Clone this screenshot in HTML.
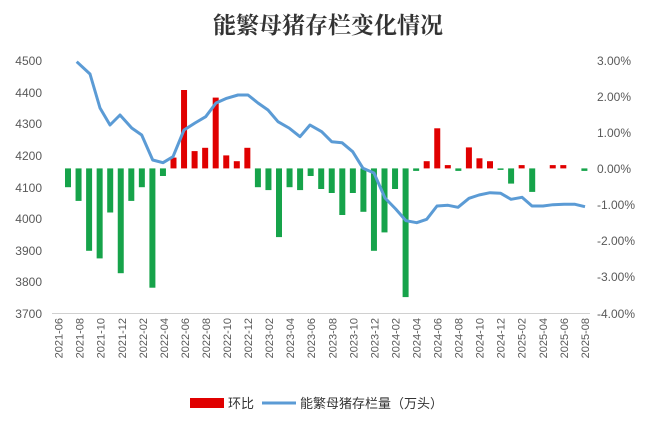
<!DOCTYPE html>
<html><head><meta charset="utf-8"><style>
body{margin:0;background:#fff;}
svg{display:block;font-family:"Liberation Sans","Noto Sans CJK SC",sans-serif;}
</style></head><body>
<svg width="654" height="424" viewBox="0 0 654 424" xmlns="http://www.w3.org/2000/svg">
<rect width="654" height="424" fill="#fff"/>
<text x="328" y="33" text-anchor="middle" font-size="23" font-weight="bold" fill="#333" font-family="'Liberation Serif','Noto Serif CJK SC',serif">能繁母猪存栏变化情况</text>
<g font-size="12" fill="#595959" text-anchor="end">
<text x="42" y="65">4500</text><text x="42" y="97">4400</text><text x="42" y="128">4300</text><text x="42" y="160">4200</text><text x="42" y="192">4100</text><text x="42" y="223">4000</text><text x="42" y="255">3900</text><text x="42" y="286">3800</text><text x="42" y="318">3700</text>
</g>
<g font-size="12" fill="#595959">
<text x="597" y="65">3.00%</text><text x="597" y="101">2.00%</text><text x="597" y="137">1.00%</text><text x="597" y="173">0.00%</text><text x="597" y="209">-1.00%</text><text x="597" y="245">-2.00%</text><text x="597" y="281">-3.00%</text><text x="597" y="318">-4.00%</text>
</g>
<line x1="52" y1="313.5" x2="590" y2="313.5" stroke="#d0d0d0"/>
<g fill="#16a34a">
<rect x="65" y="168.4" width="6" height="18.8"/>
<rect x="75.55" y="168.4" width="6" height="32.5"/>
<rect x="86.1" y="168.4" width="6" height="82.4"/>
<rect x="96.65" y="168.4" width="6" height="90"/>
<rect x="107.2" y="168.4" width="6" height="44.1"/>
<rect x="117.75" y="168.4" width="6" height="104.8"/>
<rect x="128.3" y="168.4" width="6" height="32.5"/>
<rect x="138.85" y="168.4" width="6" height="18.8"/>
<rect x="149.4" y="168.4" width="6" height="119.3"/>
<rect x="159.95" y="168.4" width="6" height="7.6"/>
<rect x="254.9" y="168.4" width="6" height="18.8"/>
<rect x="265.45" y="168.4" width="6" height="21.7"/>
<rect x="276" y="168.4" width="6" height="68.7"/>
<rect x="286.55" y="168.4" width="6" height="18.8"/>
<rect x="297.1" y="168.4" width="6" height="21.7"/>
<rect x="307.65" y="168.4" width="6" height="7.6"/>
<rect x="318.2" y="168.4" width="6" height="20.6"/>
<rect x="328.75" y="168.4" width="6" height="24.6"/>
<rect x="339.3" y="168.4" width="6" height="46.6"/>
<rect x="349.85" y="168.4" width="6" height="24.6"/>
<rect x="360.4" y="168.4" width="6" height="43.4"/>
<rect x="370.95" y="168.4" width="6" height="82.4"/>
<rect x="381.5" y="168.4" width="6" height="64"/>
<rect x="392.05" y="168.4" width="6" height="20.6"/>
<rect x="402.6" y="168.4" width="6" height="128.7"/>
<rect x="413.15" y="168.4" width="6" height="2.5"/>
<rect x="455.35" y="168.4" width="6" height="2.5"/>
<rect x="497.55" y="168.4" width="6" height="1.5"/>
<rect x="508.1" y="168.4" width="6" height="15.2"/>
<rect x="529.2" y="168.4" width="6" height="23.5"/>
<rect x="581.4" y="168.4" width="6" height="2.5"/>
</g>
<g fill="#e00000">
<rect x="170.5" y="157.6" width="6" height="10.8"/>
<rect x="181.05" y="90" width="6" height="78.4"/>
<rect x="191.6" y="151.1" width="6" height="17.3"/>
<rect x="202.15" y="147.8" width="6" height="20.6"/>
<rect x="212.7" y="97.6" width="6" height="70.8"/>
<rect x="223.25" y="155.4" width="6" height="13"/>
<rect x="233.8" y="161.2" width="6" height="7.2"/>
<rect x="244.35" y="147.8" width="6" height="20.6"/>
<rect x="423.7" y="161.2" width="6" height="7.2"/>
<rect x="434.25" y="128.3" width="6" height="40.1"/>
<rect x="444.8" y="165.1" width="6" height="3.3"/>
<rect x="465.9" y="147.4" width="6" height="21"/>
<rect x="476.45" y="158.3" width="6" height="10.1"/>
<rect x="487" y="161.2" width="6" height="7.2"/>
<rect x="518.65" y="165.1" width="6" height="3.3"/>
<rect x="549.75" y="165.1" width="6" height="3.3"/>
<rect x="560.3" y="165.1" width="6" height="3.3"/>
</g>
<polyline fill="none" stroke="#5b9bd5" stroke-width="3" stroke-linejoin="round" points="76.7,61.7 90,74 100,108 110,125 120,115 131.7,128 141.7,135 152.7,160 163,162.7 173,156.7 184,130 195,123 205.7,116.7 216,103 226.7,98.3 238,95 248,95 258,103 268,110 278,121.7 289,128 300,136.7 310,125 321.7,131.7 331.7,141.7 342,142.7 352.7,151.7 363,168.3 374,173 385,198 395.7,209 406,220.7 416.7,222.7 426.7,219.3 437,206 448,205.3 458,207.3 469,198.3 479,195 490,192.7 500.7,193.3 511,199.3 522,197.3 532,206 543,206 553,204.7 564,204.3 575,204.3 585,206.7"/>
<g font-size="11" fill="#595959" text-anchor="end">
<text transform="translate(62.6,318) rotate(-90)">2021-06</text>
<text transform="translate(83.65,318) rotate(-90)">2021-08</text>
<text transform="translate(104.7,318) rotate(-90)">2021-10</text>
<text transform="translate(125.75,318) rotate(-90)">2021-12</text>
<text transform="translate(146.8,318) rotate(-90)">2022-02</text>
<text transform="translate(167.85,318) rotate(-90)">2022-04</text>
<text transform="translate(188.9,318) rotate(-90)">2022-06</text>
<text transform="translate(209.95,318) rotate(-90)">2022-08</text>
<text transform="translate(231,318) rotate(-90)">2022-10</text>
<text transform="translate(252.05,318) rotate(-90)">2022-12</text>
<text transform="translate(273.1,318) rotate(-90)">2023-02</text>
<text transform="translate(294.15,318) rotate(-90)">2023-04</text>
<text transform="translate(315.2,318) rotate(-90)">2023-06</text>
<text transform="translate(336.25,318) rotate(-90)">2023-08</text>
<text transform="translate(357.3,318) rotate(-90)">2023-10</text>
<text transform="translate(378.35,318) rotate(-90)">2023-12</text>
<text transform="translate(399.4,318) rotate(-90)">2024-02</text>
<text transform="translate(420.45,318) rotate(-90)">2024-04</text>
<text transform="translate(441.5,318) rotate(-90)">2024-06</text>
<text transform="translate(462.55,318) rotate(-90)">2024-08</text>
<text transform="translate(483.6,318) rotate(-90)">2024-10</text>
<text transform="translate(504.65,318) rotate(-90)">2024-12</text>
<text transform="translate(525.7,318) rotate(-90)">2025-02</text>
<text transform="translate(546.75,318) rotate(-90)">2025-04</text>
<text transform="translate(567.8,318) rotate(-90)">2025-06</text>
<text transform="translate(588.85,318) rotate(-90)">2025-08</text>
</g>
<rect x="190" y="398" width="34" height="10" fill="#e00000"/>
<text x="228" y="408" font-size="13" fill="#333">环比</text>
<line x1="262" y1="403" x2="296" y2="403" stroke="#5b9bd5" stroke-width="3"/>
<text x="300" y="408" font-size="13" fill="#333">能繁母猪存栏量（万头）</text>
</svg>
</body></html>
